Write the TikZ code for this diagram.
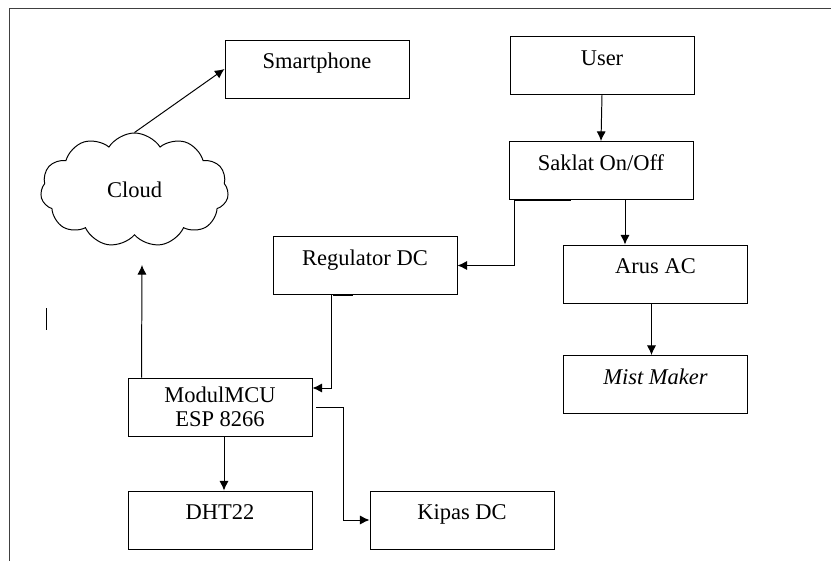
\documentclass[tikz,border=0pt]{standalone}
\usepackage{fontspec}
\setmainfont{Liberation Serif}
\usepackage{tikz}
\usetikzlibrary{arrows.meta,shapes.symbols}

\begin{document}
\begin{tikzpicture}[>={Latex[length=2.4mm,width=2.3mm]},line width=0.7pt,
  font=\fontsize{16}{17}\selectfont,
  blok/.style={draw,minimum width=4.6cm,inner ysep=0pt,text height=0.72cm,text depth=0.73cm},
  blok2/.style={draw,minimum width=4.6cm,minimum height=1.45cm,inner ysep=0pt,align=center}]

\useasboundingbox (0,0) rectangle (20.775,-14.025);

% frame
\draw [draw=black!75] (0.225,-14.025) -- (0.225,-0.2) -- (20.775,-0.2);
\draw (1.15,-7.7) -- (1.15,-8.25);

% {left side}
\node[cloud,draw,cloud puffs=11,cloud puff arc=115,aspect=1.6,
  minimum width=4.7cm,minimum height=2.85cm] (cloud) at (3.3625,-4.75) {Cloud};
\node[blok] (smart) at (7.925,-1.725) {Smartphone};
\node[blok] (reg) at (9.125,-6.6375) {Regulator DC};
\node[blok2] (mcu) at (5.5,-10.175) {ModulMCU\\ESP 8266};
\node[blok] (dht) at (5.5,-13.0) {DHT22};
\node[blok] (kipas) at (11.55,-13.0) {Kipas DC};

% {right side}
\node[blok] (user) at (15.05,-1.6375) {User};
\node[blok] (saklat) at (15.025,-4.2625) {Saklat On/Off};
\node[blok] (arus) at (16.3875,-6.85) {Arus AC};
\node[blok] (mist) at (16.3875,-9.6125) {\itshape Mist Maker};

\coordinate (cloudin) at (3.55,-6.625);

\draw [->] (cloud.north) -- (smart.west);
\draw [->] ([xshift=0.35cm]mcu.north west) -- (cloudin);
\draw [->] (user.south) -- (saklat.north);
\draw [->] ([xshift=0.6cm]saklat.south) -- ([xshift=0.6cm]saklat.south |- arus.north);
\draw [->] ([xshift=-0.1cm]arus.south) -- ([xshift=-0.1cm]mist.north);
\draw [->] ([xshift=0.15cm]saklat.south west) |- (reg.east);
\draw [->] ([xshift=1.475cm]reg.south west) |- ([yshift=0.475cm]mcu.east);
\draw [->] ([xshift=0.1cm]mcu.south) -- ([xshift=0.1cm]dht.north);
\draw [->] ([xshift=0.1cm]mcu.east) -- ++(0.675,0) |- (kipas.west);

\draw [line width=1.4pt] ([xshift=0.15cm]saklat.south west) -- ++(1.4,0);
\draw [line width=1.4pt] ([xshift=1.5cm]reg.south west) -- ++(0.5,0);

\end{tikzpicture}
\end{document}
